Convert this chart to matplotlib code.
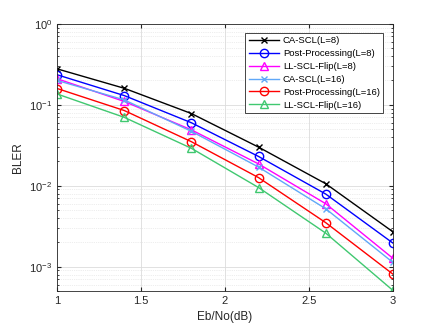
import numpy as np
import matplotlib.pyplot as plt

# Eb/No points
ebno = [1, 1.4, 1.8, 2.2, 2.6, 3]

ca_scl_8 = [0.278, 0.16, 0.078, 0.030, 0.0106, 0.0027]
pp_8 = [0.235, 0.13, 0.060, 0.023, 0.0079, 0.00196]
llflip_8 = [0.21, 0.11, 0.049, 0.0186, 0.0060, 0.00127]
ca_scl_16 = [0.20, 0.115, 0.047, 0.017, 0.0052, 0.00113]
pp_16 = [0.159, 0.085, 0.035, 0.0126, 0.0035, 0.00081]
llflip_16 = [0.136, 0.070, 0.029, 0.0095, 0.0026, 0.00051]

labels = ['CA-SCL(L=8)', 'Post-Processing(L=8)', 'LL-SCL-Flip(L=8)',
          'CA-SCL(L=16)', 'Post-Processing(L=16)', 'LL-SCL-Flip(L=16)']

plt.rcParams['font.family'] = ['Liberation Sans', 'DejaVu Sans']

fig = plt.figure(figsize=(4.36, 3.27), dpi=100)
ax = fig.add_axes([0.131, 0.11, 0.77, 0.817])

ax.semilogy(ebno, ca_scl_8, color='black', marker='x', ms=4, lw=1, mfc='none', label=labels[0])
ax.semilogy(ebno, pp_8, color='blue', marker='o', ms=6, lw=1, mfc='none', label=labels[1])
ax.semilogy(ebno, llflip_8, color='#ff00ff', marker='^', ms=6, lw=1, mfc='none', label=labels[2])
ax.semilogy(ebno, ca_scl_16, color='#60a8f8', marker='x', ms=4, lw=1, mfc='none', label=labels[3])
ax.semilogy(ebno, pp_16, color='red', marker='o', ms=6, lw=1, mfc='none', label=labels[4])
ax.semilogy(ebno, llflip_16, color='#40c870', marker='^', ms=6, lw=1, mfc='none', label=labels[5])

ax.set_xlim(1, 3)
ax.set_ylim(5e-4, 1)
ax.set_xticks([1, 1.5, 2, 2.5, 3])
ax.set_xticklabels(['1', '1.5', '2', '2.5', '3'])
ax.grid(True, which='major', color='#dcdcdc', lw=0.6)
ax.grid(True, which='minor', axis='y', color='#dcdcdc', lw=0.5, ls=':')
ax.tick_params(which='both', direction='in', labelsize=8, colors='#262626', top=True, right=True)
ax.tick_params(which='major', length=3)
ax.tick_params(which='minor', length=1.5)
for s in ax.spines.values():
    s.set_color('#262626')
    s.set_linewidth(0.6)

ax.set_xlabel('Eb/No(dB)', fontsize=8.5, color='#262626')
ax.set_ylabel('BLER', fontsize=8.5, color='#262626')

leg = ax.legend(loc='upper right', fontsize=6.8, fancybox=False, framealpha=1,
                edgecolor='#262626', borderpad=0.35, labelspacing=0.42,
                handlelength=3.2, handletextpad=0.4, bbox_to_anchor=(0.985, 0.985))
leg.get_frame().set_linewidth(0.6)

fig.savefig('out.png', dpi=100)
